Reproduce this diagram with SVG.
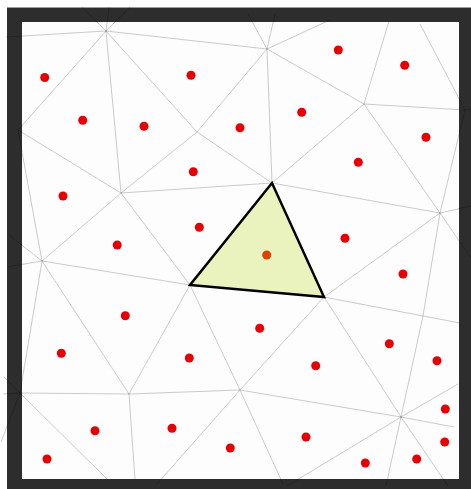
<svg xmlns="http://www.w3.org/2000/svg" width="471" height="489" viewBox="0 0 471 489">
<style>
.e{stroke:#000;stroke-opacity:.2;stroke-width:1;fill:none}
.p{fill:#e60005}
</style>
<rect x="0" y="0" width="471" height="489" fill="#ffffff"/>
<g id="frame">
<rect x="7" y="7" width="470" height="490" fill="#2d2d2d"/>
<line x1="7" y1="7.5" x2="471" y2="7.5" stroke="#9a9a9a" stroke-width="1"/>
<rect x="22" y="22" width="437" height="457" fill="#fdfdfd"/>
</g>
<g id="connectors" class="e">
<path d="M106 31L6 37M106 31L82 7M106 31L109 7M106 31L130 7M106 31L267 49M106 31L18 130M106 31L121 193M106 31L197 132"/>
<path d="M267 49L248 14M267 49L275 14M267 49L330 20M267 49L197 132M267 49L364 104M267 49L272 183"/>
<path d="M364 104L272 183M364 104L389 21M364 104L465 110M364 104L440 213"/>
<path d="M465 110L420 24M465 110L440 213M465 110L471 109"/>
<path d="M440 213L272 183M440 213L471 206M440 213L324 297M440 213L423 316M440 213L471 258"/>
<path d="M18 130L121 193M18 130L42 261M121 193L197 132M121 193L272 183M121 193L42 261M121 193L190 285M197 132L272 183"/>
<path d="M42 261L190 285M42 261L129 394M42 261L20 393M42 261L9 235M42 261L7 267"/>
<path d="M190 285L129 394M190 285L240 390"/>
<path d="M20 393L129 394M20 393L3 394M20 393L4 377M20 393L1 442M20 393L108 480M129 394L240 390M129 394L135 480"/>
<path d="M240 390L157 484M240 390L283 484M240 390L324 297M240 390L401 417"/>
<path d="M401 417L287 486M401 417L386 486M401 417L448 486M401 417L458 384M401 417L454 427M401 417L324 297M401 417L423 316M324 297L423 316M423 316L460 323"/>
</g>
<g id="highlight">
<polygon points="272,183 190,285 324,297" fill="#eaf3bd" stroke="#000" stroke-width="2.5" stroke-linejoin="miter"/>
</g>
<g id="points">
<circle class="p" cx="44.7" cy="77.5" r="4.5"/>
<circle class="p" cx="191" cy="75.3" r="4.5"/>
<circle class="p" cx="338.3" cy="50" r="4.5"/>
<circle class="p" cx="404.7" cy="65.3" r="4.5"/>
<circle class="p" cx="82.7" cy="120.3" r="4.5"/>
<circle class="p" cx="144" cy="126.3" r="4.5"/>
<circle class="p" cx="240" cy="127.7" r="4.5"/>
<circle class="p" cx="301.7" cy="112.3" r="4.5"/>
<circle class="p" cx="426" cy="137.3" r="4.5"/>
<circle class="p" cx="358.3" cy="162.3" r="4.5"/>
<circle class="p" cx="193.3" cy="171.7" r="4.5"/>
<circle class="p" cx="63" cy="196" r="4.5"/>
<circle class="p" cx="199.3" cy="227.3" r="4.5"/>
<circle class="p" cx="345" cy="238.3" r="4.5"/>
<circle class="p" cx="117.2" cy="245" r="4.5"/>
<circle cx="266.7" cy="255" r="4.5" fill="#dd4000"/>
<circle class="p" cx="403" cy="274" r="4.5"/>
<circle class="p" cx="125.3" cy="315.7" r="4.5"/>
<circle class="p" cx="259.7" cy="328.3" r="4.5"/>
<circle class="p" cx="389.3" cy="343.7" r="4.5"/>
<circle class="p" cx="61.3" cy="353.3" r="4.5"/>
<circle class="p" cx="189.3" cy="358" r="4.5"/>
<circle class="p" cx="315.7" cy="365.7" r="4.5"/>
<circle class="p" cx="437" cy="360.7" r="4.5"/>
<circle class="p" cx="445.3" cy="409" r="4.5"/>
<circle class="p" cx="95" cy="430.7" r="4.5"/>
<circle class="p" cx="172" cy="428.3" r="4.5"/>
<circle class="p" cx="306" cy="437" r="4.5"/>
<circle class="p" cx="230.3" cy="448" r="4.5"/>
<circle class="p" cx="444.7" cy="442" r="4.5"/>
<circle class="p" cx="47" cy="459" r="4.5"/>
<circle class="p" cx="365.3" cy="463" r="4.5"/>
<circle class="p" cx="416.7" cy="459" r="4.5"/>
</g>
</svg>
